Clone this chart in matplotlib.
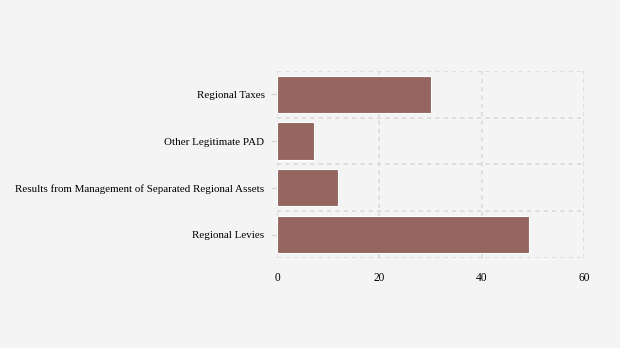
import matplotlib.pyplot as plt
import numpy as np

categories = ["Regional Levies",
              "Results from Management of Separated Regional Assets",
              "Other Legitimate PAD",
              "Regional Taxes"]
values = [49.2, 11.9, 7.2, 30.1]
xticks = [0, 20, 40, 60]

plt.rcParams['font.family'] = ['Liberation Serif', 'DejaVu Serif']

fig = plt.figure(figsize=(6.2, 3.48), dpi=100)
fig.patch.set_facecolor('#f4f4f4')
ax = fig.add_axes([0.4468, 0.259, 0.4952, 0.537])
ax.set_facecolor('#f4f4f4')

y = np.arange(len(categories))
ax.barh(y, values, height=0.8, color='#956660', edgecolor='white', linewidth=0.8, zorder=2)

ax.set_xlim(0, 60)
ax.set_ylim(-0.5, len(categories) - 0.5)
ax.set_xticks(xticks)
ax.set_yticks(y)
ax.set_yticklabels(categories)
ax.set_yticks(np.arange(-0.5, len(categories), 1), minor=True)

ax.grid(axis='x', which='major', color='#dadada', linestyle=(0, (2.5, 2.5)), linewidth=1.2, zorder=1)
ax.grid(axis='y', which='minor', color='#dadada', linestyle=(0, (2.5, 2.5)), linewidth=1.2, zorder=1)
ax.tick_params(axis='y', which='minor', length=0)
ax.tick_params(axis='y', which='major', length=4, color='#d5d5d5', labelsize=7.9, pad=5)
ax.tick_params(axis='x', length=0, labelsize=8.3, pad=10)
for s in ax.spines.values():
    s.set_visible(False)

fig.savefig('out.png', dpi=100, facecolor=fig.get_facecolor())
